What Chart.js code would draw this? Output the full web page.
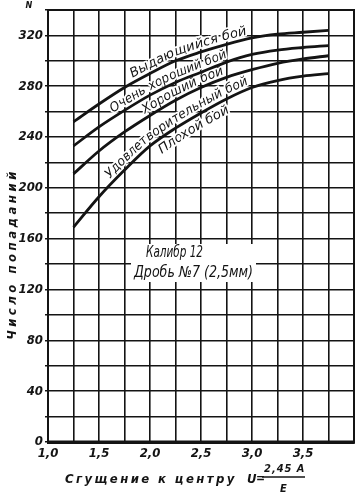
<!DOCTYPE html>
<html>
<head>
<meta charset="utf-8">
<script src="https://cdn.jsdelivr.net/npm/chart.js@4/dist/chart.umd.min.js"></script>
<style>
  html, body { margin: 0; padding: 0; background: #fff; }
</style>
</head>
<body>
<canvas id="hitsChart" width="359" height="497"></canvas>
<script>
// ── Data (U value vs number of hits N) ──
const uValues          = [1.25, 1.5, 1.75, 2.0, 2.25, 2.5, 2.75, 3.0, 3.25, 3.5, 3.75];
const hitsOutstanding  = [252, 266, 279, 290, 300, 307, 313, 318, 321, 322.5, 324];
const hitsVeryGood     = [233, 248, 261, 273, 283, 291, 299, 305, 308.5, 310.5, 312];
const hitsGood         = [211, 229, 244, 257, 269, 279, 287, 293, 298, 301.5, 304];
const hitsSatisfactory = [169, 193, 214, 233, 247, 259, 270, 279, 284.5, 288, 290];

const yTickLabels = [0, 40, 80, 120, 160, 200, 240, 280, 320];
const xTickLabels = [1.0, 1.5, 2.0, 2.5, 3.0, 3.5];

// captions written along a curve: which curve, from/to (U units), offset from the line (px)
const curveLabels = [
  { text: "Выдающийся бой",         curve: 0, from: 1.85, to: 2.96, offset: 8 },
  { text: "Очень хороший бой",      curve: 1, from: 1.66, to: 2.77, offset: 7.5 },
  { text: "Хороший бой",            curve: 2, from: 1.97, to: 2.74, offset: 7.5 },
  { text: "Удовлетворительный бой", curve: 3, from: 1.64, to: 2.98, offset: 8 },
  { text: "Плохой бой",             curve: 3, from: 2.04, to: 2.72, offset: -10 }
];

const INK = "#141414";
const FONT = "'Liberation Sans Narrow', 'DejaVu Sans Condensed', 'DejaVu Sans', sans-serif";

const pts = arr => uValues.map((u, i) => ({ x: u, y: arr[i] }));
const curve = (label, arr) => ({
  label, data: pts(arr),
  borderColor: INK, borderWidth: 2.8,
  pointRadius: 0, fill: false,
  cubicInterpolationMode: "monotone"
});

// y and slope angle of a drawn curve at pixel x (polyline through the drawn points)
function curveAt(points, px) {
  let i = 0;
  while (i < points.length - 2 && points[i + 1].x < px) i++;
  const p = points[i], q = points[i + 1];
  const t = (px - p.x) / (q.x - p.x);
  return { y: p.y + t * (q.y - p.y), a: Math.atan2(q.y - p.y, q.x - p.x) };
}

function layoutChars(ctx, points, text, x0, sx) {
  const out = [];
  let cx = x0;
  for (const ch of text) {
    const w = ctx.measureText(ch).width * sx;
    const a0 = curveAt(points, cx).a;
    const mx = cx + (w / 2) * Math.cos(a0);
    const m = curveAt(points, mx);
    out.push({ ch, x: mx, y: m.y, a: m.a });
    cx += w * Math.cos(m.a);
  }
  return { chars: out, end: cx };
}

const decor = {
  id: "decor",
  beforeDatasetsDraw(chart) {
    const { ctx, chartArea: a, scales: { x } } = chart;
    ctx.save();

    // note block (white box knocks out the grid)
    ctx.fillStyle = "#fff";
    ctx.fillRect(131, 244, 125, 38);
    ctx.fillStyle = INK;
    ctx.font = "italic 15px " + FONT;
    ctx.textBaseline = "middle";
    ctx.textAlign = "left";
    ctx.save(); ctx.translate(146, 253); ctx.scale(57 / ctx.measureText("Калибр 12").width, 1);
    ctx.fillText("Калибр 12", 0, 0); ctx.restore();
    ctx.save(); ctx.translate(134, 273); ctx.scale(119 / ctx.measureText("Дробь №7 (2,5мм)").width, 1);
    ctx.fillText("Дробь №7 (2,5мм)", 0, 0); ctx.restore();

    // curve captions, letter by letter along the line
    ctx.font = "italic 13px " + FONT;
    ctx.textAlign = "center";
    ctx.textBaseline = "middle";
    curveLabels.forEach(l => {
      const points = chart.getDatasetMeta(l.curve).data.map(e => ({ x: e.x, y: e.y }));
      const x0 = x.getPixelForValue(l.from), x1 = x.getPixelForValue(l.to);
      const dry = layoutChars(ctx, points, l.text, x0, 1);
      const sx = (x1 - x0) / (dry.end - x0);
      const { chars } = layoutChars(ctx, points, l.text, x0, sx);
      chars.forEach(c => {
        ctx.save();
        ctx.translate(c.x + l.offset * Math.sin(c.a), c.y - l.offset * Math.cos(c.a));
        ctx.rotate(c.a);
        ctx.scale(sx, 1);
        ctx.lineJoin = "round";
        ctx.lineWidth = 3.5;
        ctx.strokeStyle = "#fff";
        ctx.strokeText(c.ch, 0, 0);
        ctx.fillStyle = INK;
        ctx.fillText(c.ch, 0, 0);
        ctx.restore();
      });
    });

    // heavy frame
    ctx.strokeStyle = INK;
    ctx.lineWidth = 2;
    ctx.strokeRect(a.left, a.top, a.right - a.left, a.bottom - a.top);
    ctx.lineWidth = 3;
    ctx.beginPath(); ctx.moveTo(a.left - 1, a.bottom); ctx.lineTo(a.right + 1, a.bottom); ctx.stroke();
    ctx.restore();
  },
  afterDraw(chart) {
    const { ctx } = chart;
    ctx.save();
    ctx.fillStyle = INK;
    ctx.strokeStyle = INK;

    // N marker above the y axis
    ctx.font = "italic bold 9px " + FONT;
    ctx.textAlign = "center"; ctx.textBaseline = "middle";
    ctx.fillText("N", 29, 6);

    // y axis title
    ctx.font = "italic bold 13px " + FONT;
    ctx.letterSpacing = "3.5px";
    ctx.save();
    ctx.translate(13, 254);
    ctx.rotate(-Math.PI / 2);
    ctx.textAlign = "center";
    ctx.fillText("Число попаданий", 0, 0);
    ctx.restore();

    // x axis title with the U = 2,45A / E fraction
    ctx.textAlign = "left";
    ctx.letterSpacing = "2.4px";
    ctx.fillText("Сгущение к центру", 65, 480);
    ctx.letterSpacing = "0px";
    ctx.fillText("U", 247, 480);
    ctx.font = "bold 12px " + FONT;
    ctx.fillText("=", 256, 479);
    ctx.font = "italic bold 11px " + FONT;
    ctx.letterSpacing = "1px";
    ctx.fillText("2,45 A", 264, 469);
    ctx.fillText("E", 280, 489);
    ctx.lineWidth = 1.3;
    ctx.beginPath(); ctx.moveTo(262, 477); ctx.lineTo(305, 477); ctx.stroke();
    ctx.restore();
  }
};

new Chart(document.getElementById("hitsChart"), {
  type: "line",
  data: {
    datasets: [
      curve("Выдающийся бой", hitsOutstanding),
      curve("Очень хороший бой", hitsVeryGood),
      curve("Хороший бой", hitsGood),
      curve("Удовлетворительный бой", hitsSatisfactory)
    ]
  },
  options: {
    responsive: false,
    animation: false,
    devicePixelRatio: 1,
    layout: { padding: { top: 10, right: 5, left: 0, bottom: 0 } },
    plugins: { legend: { display: false }, tooltip: { enabled: false } },
    scales: {
      x: {
        type: "linear", min: 1, max: 4,
        afterFit: s => { s.height = 55; },
        ticks: {
          stepSize: 0.25, autoSkip: false, maxRotation: 0, padding: 4,
          color: INK,
          font: { family: FONT, size: 13, style: "italic", weight: "bold" },
          callback: v => xTickLabels.some(t => Math.abs(t - v) < 1e-6) ? v.toFixed(1).replace(".", ",") : ""
        },
        grid: { color: INK, lineWidth: 1.6, drawTicks: false },
        border: { color: INK, width: 3 }
      },
      y: {
        min: 0, max: 340,
        afterFit: s => { s.width = 48; },
        ticks: {
          stepSize: 20, autoSkip: false, padding: 2,
          color: INK,
          font: { family: FONT, size: 13, style: "italic", weight: "bold" },
          callback: v => yTickLabels.includes(v) ? String(v) : ""
        },
        grid: { color: INK, lineWidth: 1.6, tickLength: 3 },
        border: { color: INK, width: 2 }
      }
    }
  },
  plugins: [decor]
});
</script>
</body>
</html>
